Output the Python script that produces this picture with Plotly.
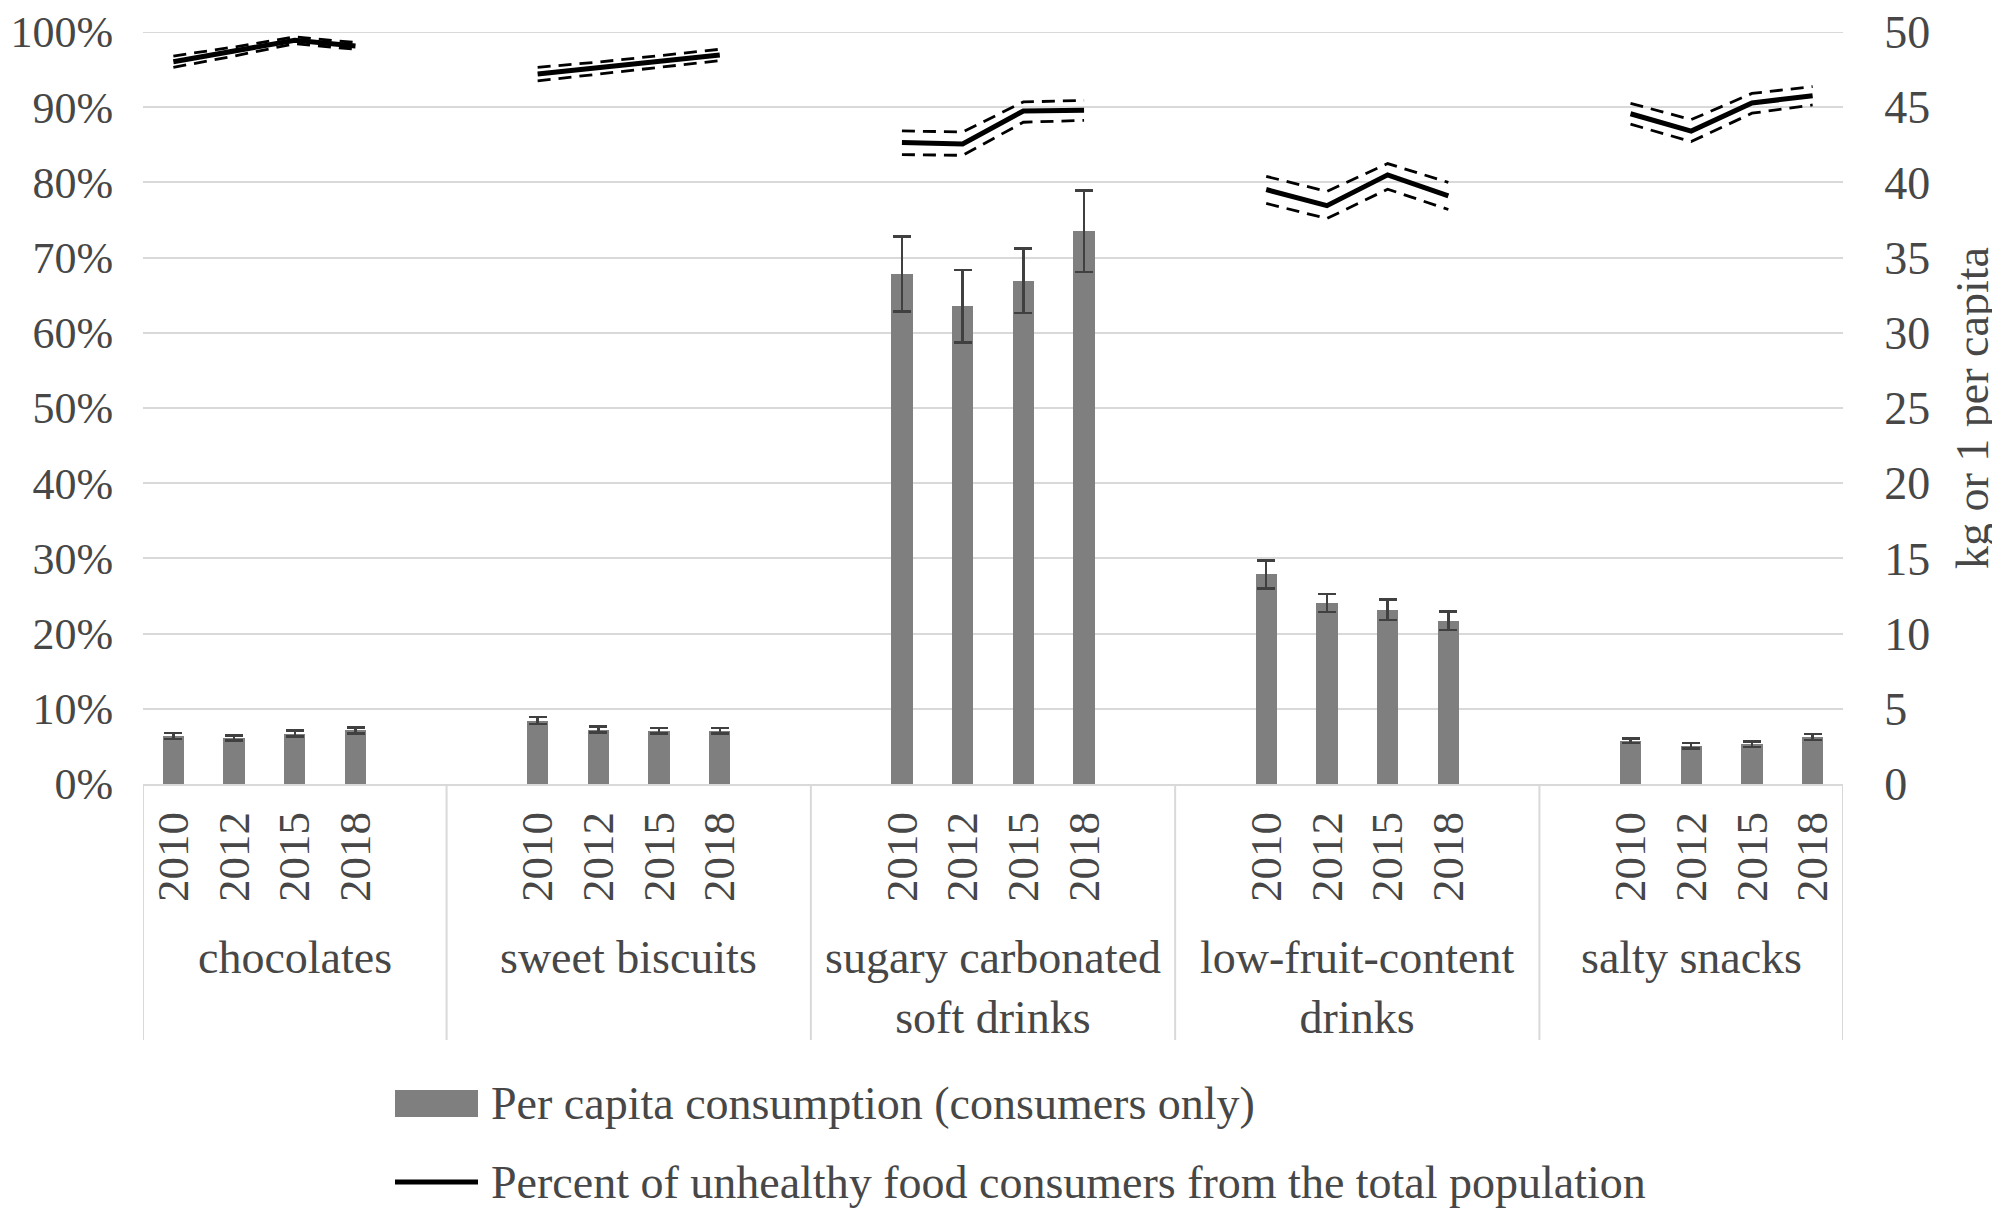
import plotly.graph_objects as go

# ---------------- data ----------------
categories = ["chocolates", "sweet biscuits", "sugary carbonated<br>soft drinks",
              "low-fruit-content<br>drinks", "salty snacks"]
years = ["2010", "2012", "2015", "2018"]

# per capita consumption (kg or l), consumers only  + error (half CI)
cons_chocolates = [3.20, 3.06, 3.35, 3.56]
cons_sweet      = [4.22, 3.61, 3.55, 3.55]
cons_sugary     = [33.9, 31.76, 33.46, 36.75]
cons_lowfruit   = [13.93, 12.03, 11.59, 10.85]
cons_salty      = [2.87, 2.54, 2.65, 3.14]

err_chocolates = [0.20, 0.16, 0.20, 0.20]
err_sweet      = [0.24, 0.20, 0.19, 0.19]
err_sugary     = [2.50, 2.40, 2.15, 2.70]
err_lowfruit   = [0.93, 0.59, 0.69, 0.62]
err_salty      = [0.16, 0.18, 0.19, 0.20]

# percent of unhealthy food consumers from total population (%)
pct_chocolates = [96.05, 97.4, 98.9, 98.15]
pct_sweet      = [94.4, 95.2, 96.05, 96.95]
pct_sugary     = [85.3, 85.1, 89.5, 89.6]
pct_lowfruit   = [79.05, 76.9, 81.0, 78.2]
pct_salty      = [89.13, 86.83, 90.57, 91.52]

pct_hi_chocolates = [96.8, 98.0, 99.35, 98.6]
pct_lo_chocolates = [95.3, 96.8, 98.45, 97.7]
pct_hi_sweet      = [95.3, 96.0, 96.85, 97.7]
pct_lo_sweet      = [93.5, 94.4, 95.25, 96.2]
pct_hi_sugary     = [86.85, 86.7, 90.7, 90.9]
pct_lo_sugary     = [83.7, 83.6, 88.0, 88.25]
pct_hi_lowfruit   = [80.8, 78.8, 82.5, 80.0]
pct_lo_lowfruit   = [77.2, 75.2, 79.1, 76.4]
pct_hi_salty      = [90.52, 88.35, 91.83, 92.74]
pct_lo_salty      = [87.74, 85.43, 89.2, 90.3]

cons = [cons_chocolates, cons_sweet, cons_sugary, cons_lowfruit, cons_salty]
errs = [err_chocolates, err_sweet, err_sugary, err_lowfruit, err_salty]
pcts = [pct_chocolates, pct_sweet, pct_sugary, pct_lowfruit, pct_salty]
pct_hi = [pct_hi_chocolates, pct_hi_sweet, pct_hi_sugary, pct_hi_lowfruit, pct_hi_salty]
pct_lo = [pct_lo_chocolates, pct_lo_sweet, pct_lo_sugary, pct_lo_lowfruit, pct_lo_salty]

# ---------------- layout helpers ----------------
OFF = 8                      # default page body margin
W, H = 2000 - OFF, 1210 - OFF
PL, PR, PT, PB = 143, 1843, 32, 784   # plot area in window pixels
ML, MT = PL - OFF, PT - OFF
PW, PH = PR - PL, PB - PT
MR = W - ML - PW
MB = H - MT - PH

def pxx(x):
    return (x - PL) / PW

def pxy(y):
    return (PB - y) / PH

FONT = "Liberation Serif"
TXT = "#474747"
GRID = "#d9d9d9"
FS = 46

stride = len(years) + 2
xpos = [[g * stride + j for j in range(len(years))] for g in range(len(categories))]
bounds = [-0.5] + [g * stride + len(years) - 1 + 1.5 for g in range(len(categories) - 1)] + [
    (len(categories) - 1) * stride + len(years) - 0.5]

fig = go.Figure()

all_x = [x for row in xpos for x in row]
all_c = [v for row in cons for v in row]
all_e = [v for row in errs for v in row]

fig.add_trace(go.Bar(
    x=all_x, y=all_c, yaxis="y2", width=0.35,
    marker=dict(color="#7f7f7f", line=dict(width=0)),
    error_y=dict(type="data", array=all_e, visible=True, color="#404040",
                 thickness=2.5, width=9),
    showlegend=False, name="Per capita consumption (consumers only)"))

for g in range(len(categories)):
    fig.add_trace(go.Scatter(x=xpos[g], y=[v / 100 for v in pct_hi[g]], mode="lines",
                             line=dict(color="black", width=2.8, dash="13px,8px"),
                             showlegend=False, hoverinfo="skip"))
    fig.add_trace(go.Scatter(x=xpos[g], y=[v / 100 for v in pct_lo[g]], mode="lines",
                             line=dict(color="black", width=2.8, dash="13px,8px"),
                             showlegend=False, hoverinfo="skip"))
    fig.add_trace(go.Scatter(x=xpos[g], y=[v / 100 for v in pcts[g]], mode="lines",
                             line=dict(color="black", width=5),
                             showlegend=False,
                             name="Percent of unhealthy food consumers from the total population"))

shapes = []
# top gridline (at the range end)
shapes.append(dict(type="line", xref="paper", yref="y", x0=0, x1=1, y0=1, y1=1,
                   line=dict(color=GRID, width=2), layer="below"))
for b in bounds:
    shapes.append(dict(type="line", xref="x", yref="paper", x0=b, x1=b,
                       y0=0, y1=pxy(1040), line=dict(color=GRID, width=2)))

annotations = []
for g, cat in enumerate(categories):
    cx = (bounds[g] + bounds[g + 1]) / 2
    annotations.append(dict(x=cx, y=pxy(930), xref="x", yref="paper", text=cat,
                            showarrow=False, xanchor="center", yanchor="top",
                            font=dict(family=FONT, size=FS, color=TXT)))

# legend (drawn)
shapes.append(dict(type="rect", xref="paper", yref="paper",
                   x0=pxx(395), x1=pxx(478), y0=pxy(1117), y1=pxy(1090),
                   fillcolor="#7f7f7f", line=dict(width=0)))
shapes.append(dict(type="line", xref="paper", yref="paper",
                   x0=pxx(395), x1=pxx(478), y0=pxy(1182), y1=pxy(1182),
                   line=dict(color="black", width=5)))
annotations.append(dict(x=pxx(489), y=pxy(1103), xref="paper", yref="paper",
                        text="Per capita consumption (consumers only)", showarrow=False,
                        xanchor="left", yanchor="middle",
                        font=dict(family=FONT, size=FS, color=TXT)))
annotations.append(dict(x=pxx(489), y=pxy(1182), xref="paper", yref="paper",
                        text="Percent of unhealthy food consumers from the total population",
                        showarrow=False, xanchor="left", yanchor="middle",
                        font=dict(family=FONT, size=FS, color=TXT)))

fig.update_layout(
    width=W, height=H,
    margin=dict(l=ML, r=MR, t=MT, b=MB, autoexpand=False),
    paper_bgcolor="white", plot_bgcolor="white",
    font=dict(family=FONT, size=FS, color=TXT),
    bargap=0,
    xaxis=dict(range=[bounds[0], bounds[-1]], tickvals=all_x,
               ticktext=years * len(categories), tickangle=-90,
               ticks="outside", ticklen=8, tickcolor="rgba(0,0,0,0)",
               showgrid=False, zeroline=False, showline=True,
               linecolor=GRID, linewidth=2,
               tickfont=dict(family=FONT, size=45, color=TXT)),
    yaxis=dict(range=[0, 1], dtick=0.1, tickformat=".0%",
               showgrid=True, gridcolor=GRID, gridwidth=2, zeroline=False,
               ticks="outside", ticklen=20, tickcolor="rgba(0,0,0,0)",
               ticklabeloverflow="allow",
               tickfont=dict(family=FONT, size=44, color=TXT)),
    yaxis2=dict(range=[0, 50], dtick=5, overlaying="y", side="right",
                showgrid=False, zeroline=False,
                ticks="outside", ticklen=31, tickcolor="rgba(0,0,0,0)",
                ticklabeloverflow="allow",
                tickfont=dict(family=FONT, size=FS, color=TXT),
                title=dict(text="kg or 1 per capita", standoff=26,
                           font=dict(family=FONT, size=FS, color=TXT))),
    shapes=shapes, annotations=annotations,
)

fig.write_html("out.html")
